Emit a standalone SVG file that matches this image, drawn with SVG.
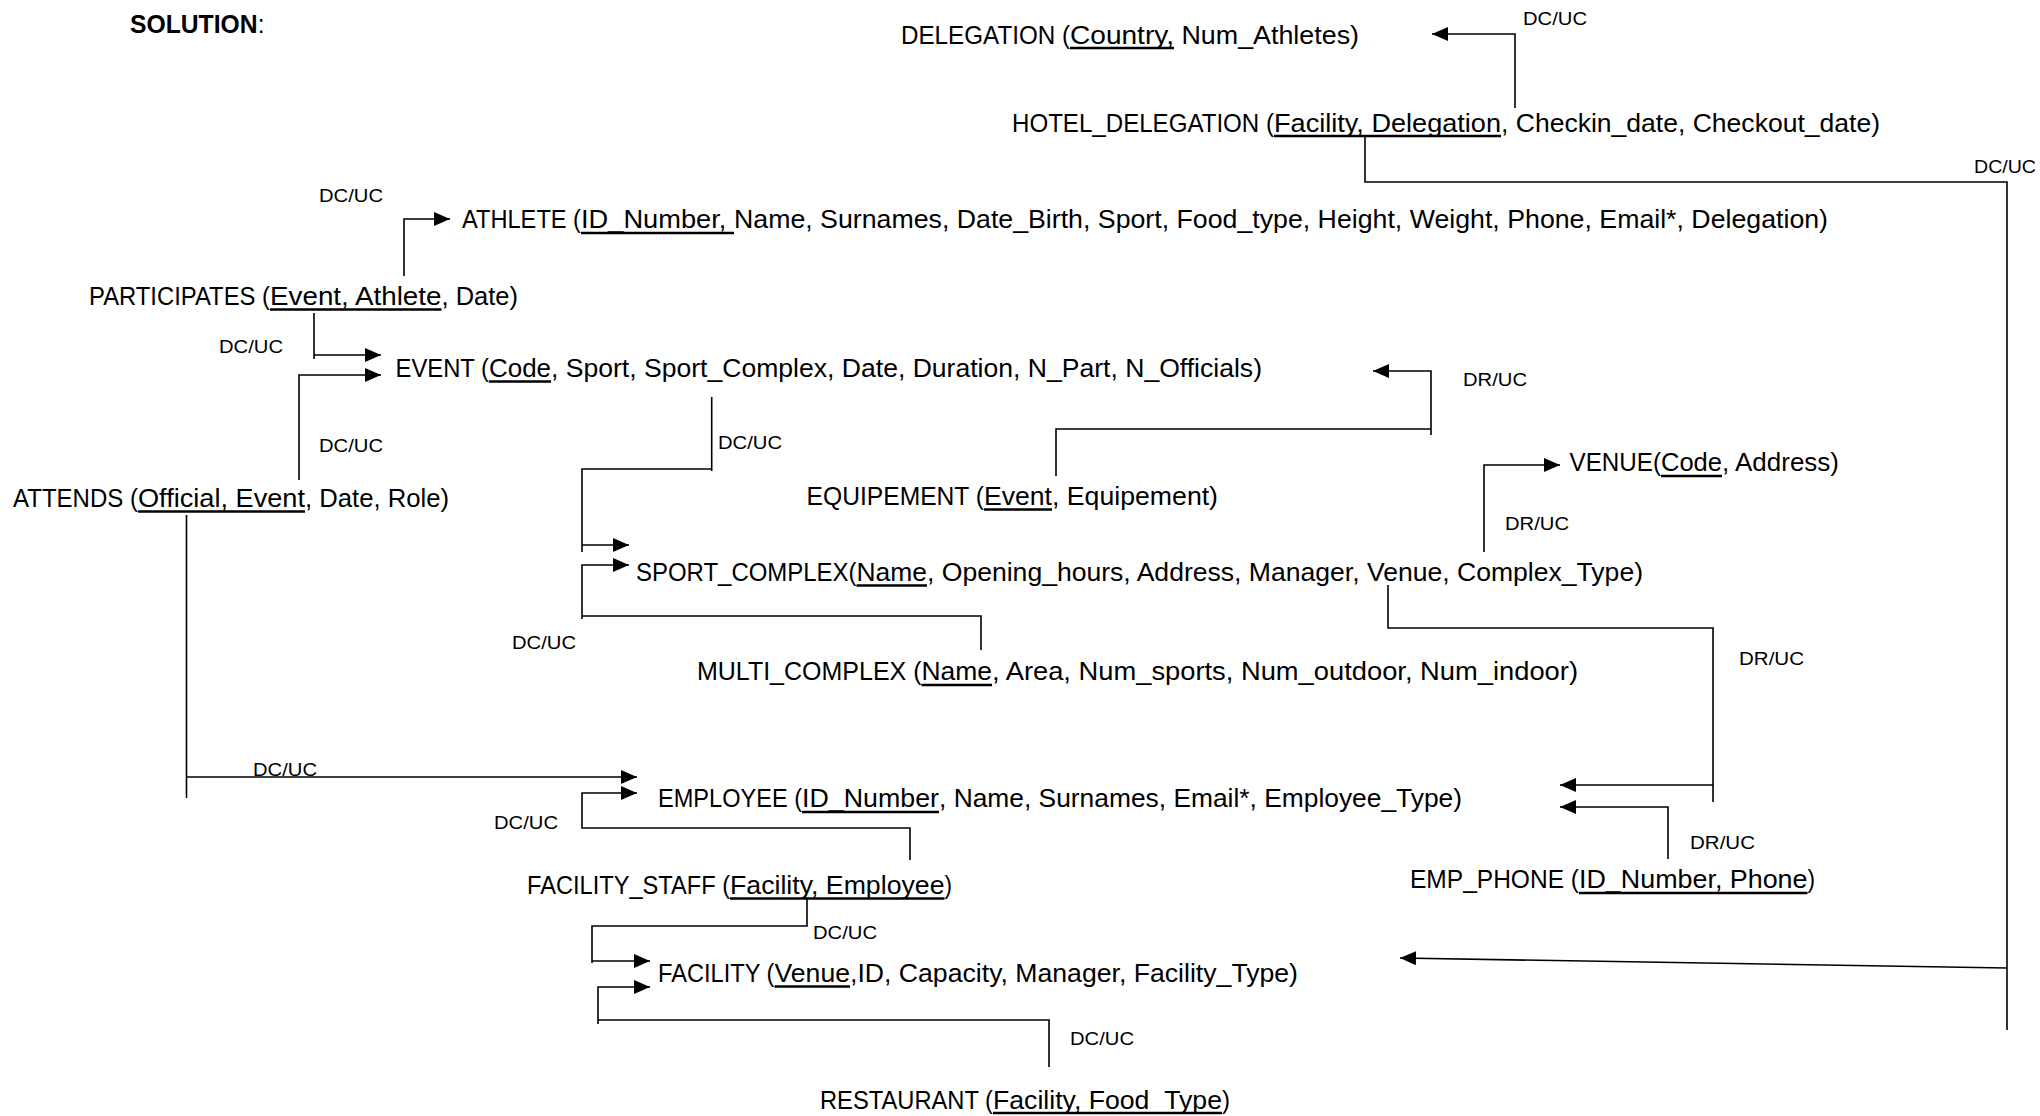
<svg xmlns="http://www.w3.org/2000/svg" width="2040" height="1116" viewBox="0 0 2040 1116">
<style>
text{font-family:"Liberation Sans",Arial,sans-serif;fill:#000}
.t{font-size:25px}
.s{font-size:18.5px}
.u{stroke:#000;stroke-width:2.6}
.c{fill:none;stroke:#000;stroke-width:1.6}
</style>
<defs>
<marker id="ah" viewBox="0 0 16 14" refX="16" refY="7" markerWidth="16" markerHeight="14" markerUnits="userSpaceOnUse" orient="auto"><path d="M0,0 L16,7 L0,14 z" fill="#000"/></marker>
</defs>
<rect width="2040" height="1116" fill="#fff"/>
<g id="title"><text class="t" x="130" y="33" textLength="134.5" lengthAdjust="spacingAndGlyphs"><tspan font-weight="bold">SOLUTION</tspan>:</text></g>
<g id="delegation"><text class="t" y="44" lengthAdjust="spacingAndGlyphs"><tspan x="901" textLength="169" lengthAdjust="spacingAndGlyphs">DELEGATION (</tspan><tspan x="1070" textLength="104" lengthAdjust="spacingAndGlyphs">Country,</tspan><tspan x="1174" textLength="185" lengthAdjust="spacingAndGlyphs"> Num_Athletes)</tspan></text><line class="u" x1="1070" y1="48" x2="1174" y2="48"/></g>
<g id="hotel_delegation"><text class="t" y="132"><tspan x="1012" textLength="262" lengthAdjust="spacingAndGlyphs">HOTEL_DELEGATION (</tspan><tspan x="1274" textLength="227" lengthAdjust="spacingAndGlyphs">Facility, Delegation</tspan><tspan x="1501" textLength="379" lengthAdjust="spacingAndGlyphs">, Checkin_date, Checkout_date)</tspan></text><line class="u" x1="1274" y1="136" x2="1501" y2="136"/></g>
<g id="athlete"><text class="t" y="228"><tspan x="462" textLength="119" lengthAdjust="spacingAndGlyphs">ATHLETE (</tspan><tspan x="581" textLength="153" lengthAdjust="spacingAndGlyphs">ID_Number, </tspan><tspan x="734" textLength="1094" lengthAdjust="spacingAndGlyphs">Name, Surnames, Date_Birth, Sport, Food_type, Height, Weight, Phone, Email*, Delegation)</tspan></text><line class="u" x1="581" y1="233" x2="734" y2="233"/></g>
<g id="participates"><text class="t" y="305"><tspan x="89" textLength="181" lengthAdjust="spacingAndGlyphs">PARTICIPATES (</tspan><tspan x="270" textLength="171.5" lengthAdjust="spacingAndGlyphs">Event, Athlete</tspan><tspan x="441.5" textLength="76.5" lengthAdjust="spacingAndGlyphs">, Date)</tspan></text><line class="u" x1="270" y1="309.5" x2="441.5" y2="309.5"/></g>
<g id="event"><text class="t" y="377"><tspan x="395.5" textLength="93.5" lengthAdjust="spacingAndGlyphs">EVENT (</tspan><tspan x="489" textLength="62" lengthAdjust="spacingAndGlyphs">Code</tspan><tspan x="551" textLength="711" lengthAdjust="spacingAndGlyphs">, Sport, Sport_Complex, Date, Duration, N_Part, N_Officials)</tspan></text><line class="u" x1="489" y1="381.5" x2="551" y2="381.5"/></g>
<g id="attends"><text class="t" y="507"><tspan x="13" textLength="125" lengthAdjust="spacingAndGlyphs">ATTENDS (</tspan><tspan x="138" textLength="167" lengthAdjust="spacingAndGlyphs">Official, Event</tspan><tspan x="305" textLength="144" lengthAdjust="spacingAndGlyphs">, Date, Role)</tspan></text><line class="u" x1="138" y1="511.5" x2="305" y2="511.5"/></g>
<g id="equipement"><text class="t" y="505"><tspan x="806.6" textLength="177.4" lengthAdjust="spacingAndGlyphs">EQUIPEMENT (</tspan><tspan x="984" textLength="68" lengthAdjust="spacingAndGlyphs">Event</tspan><tspan x="1052" textLength="166" lengthAdjust="spacingAndGlyphs">, Equipement)</tspan></text><line class="u" x1="984" y1="509.5" x2="1052" y2="509.5"/></g>
<g id="venue"><text class="t" y="471"><tspan x="1569.5" textLength="91.5" lengthAdjust="spacingAndGlyphs">VENUE(</tspan><tspan x="1661" textLength="61" lengthAdjust="spacingAndGlyphs">Code</tspan><tspan x="1722" textLength="117" lengthAdjust="spacingAndGlyphs">, Address)</tspan></text><line class="u" x1="1661" y1="476" x2="1722" y2="476"/></g>
<g id="sport_complex"><text class="t" y="581"><tspan x="636" textLength="220.5" lengthAdjust="spacingAndGlyphs">SPORT_COMPLEX(</tspan><tspan x="856.5" textLength="70.5" lengthAdjust="spacingAndGlyphs">Name</tspan><tspan x="927" textLength="716" lengthAdjust="spacingAndGlyphs">, Opening_hours, Address, Manager, Venue, Complex_Type)</tspan></text><line class="u" x1="856.5" y1="585.5" x2="927" y2="585.5"/></g>
<g id="multi_complex"><text class="t" y="680"><tspan x="697" textLength="224.5" lengthAdjust="spacingAndGlyphs">MULTI_COMPLEX (</tspan><tspan x="921.5" textLength="70.5" lengthAdjust="spacingAndGlyphs">Name</tspan><tspan x="992" textLength="586" lengthAdjust="spacingAndGlyphs">, Area, Num_sports, Num_outdoor, Num_indoor)</tspan></text><line class="u" x1="921.5" y1="685" x2="992" y2="685"/></g>
<g id="employee"><text class="t" y="807"><tspan x="658" textLength="144" lengthAdjust="spacingAndGlyphs">EMPLOYEE (</tspan><tspan x="802" textLength="137" lengthAdjust="spacingAndGlyphs">ID_Number</tspan><tspan x="939" textLength="523" lengthAdjust="spacingAndGlyphs">, Name, Surnames, Email*, Employee_Type)</tspan></text><line class="u" x1="802" y1="812" x2="939" y2="812"/></g>
<g id="facility_staff"><text class="t" y="894"><tspan x="527" textLength="203" lengthAdjust="spacingAndGlyphs">FACILITY_STAFF (</tspan><tspan x="730" textLength="214.5" lengthAdjust="spacingAndGlyphs">Facility, Employee</tspan><tspan x="944.5" textLength="7.5" lengthAdjust="spacingAndGlyphs">)</tspan></text><line class="u" x1="730" y1="898.5" x2="944.5" y2="898.5"/></g>
<g id="emp_phone"><text class="t" y="888"><tspan x="1410" textLength="169" lengthAdjust="spacingAndGlyphs">EMP_PHONE (</tspan><tspan x="1579" textLength="228.5" lengthAdjust="spacingAndGlyphs">ID_Number, Phone</tspan><tspan x="1807.5" textLength="7.5" lengthAdjust="spacingAndGlyphs">)</tspan></text><line class="u" x1="1579" y1="893" x2="1807.5" y2="893"/></g>
<g id="facility"><text class="t" y="982"><tspan x="658" textLength="116.5" lengthAdjust="spacingAndGlyphs">FACILITY (</tspan><tspan x="774.5" textLength="75.5" lengthAdjust="spacingAndGlyphs">Venue</tspan><tspan x="850" textLength="448" lengthAdjust="spacingAndGlyphs">,ID, Capacity, Manager, Facility_Type)</tspan></text><line class="u" x1="774.5" y1="986.5" x2="850" y2="986.5"/></g>
<g id="restaurant"><text class="t" y="1109"><tspan x="820" textLength="173" lengthAdjust="spacingAndGlyphs">RESTAURANT (</tspan><tspan x="993" textLength="229" lengthAdjust="spacingAndGlyphs">Facility, Food_Type</tspan><tspan x="1222" textLength="8" lengthAdjust="spacingAndGlyphs">)</tspan></text><line class="u" x1="993" y1="1113" x2="1222" y2="1113"/></g>
<g id="connectors">
<path class="c" d="M1515,108 V34 H1432" marker-end="url(#ah)"/>
<path class="c" d="M1365,137 V182 H2007 V1030"/>
<path class="c" d="M2007,968 L1400,958" marker-end="url(#ah)"/>
<path class="c" d="M404,276 V219 H450" marker-end="url(#ah)"/>
<path class="c" d="M314,313 V359"/>
<path class="c" d="M314,355 H381" marker-end="url(#ah)"/>
<path class="c" d="M299,480 V375 H381" marker-end="url(#ah)"/>
<path class="c" d="M186.5,515 V798"/>
<path class="c" d="M186.5,777 H637" marker-end="url(#ah)"/>
<path class="c" d="M910,860 V828 H582 V793 H637" marker-end="url(#ah)"/>
<path class="c" d="M807,899 V926 H592 V963"/>
<path class="c" d="M592,961 H650" marker-end="url(#ah)"/>
<path class="c" d="M1049,1067 V1020 H598"/>
<path class="c" d="M598,1024 V987 H650" marker-end="url(#ah)"/>
<path class="c" d="M1056,476 V429 H1431"/>
<path class="c" d="M1431,435 V371 H1373" marker-end="url(#ah)"/>
<path class="c" d="M711.7,397 V471"/>
<path class="c" d="M711.7,469 H582 V552"/>
<path class="c" d="M582,545 H629" marker-end="url(#ah)"/>
<path class="c" d="M981,650 V616 H582"/>
<path class="c" d="M582,619 V565 H629" marker-end="url(#ah)"/>
<path class="c" d="M1484,552 V465 H1560" marker-end="url(#ah)"/>
<path class="c" d="M1388,585 V628 H1713 V802"/>
<path class="c" d="M1713,785 H1560" marker-end="url(#ah)"/>
<path class="c" d="M1668,859 V807 H1560" marker-end="url(#ah)"/>
<text class="s" x="1523" y="25" textLength="64" lengthAdjust="spacingAndGlyphs">DC/UC</text>
<text class="s" x="1974" y="173" textLength="62" lengthAdjust="spacingAndGlyphs">DC/UC</text>
<text class="s" x="319" y="202" textLength="64" lengthAdjust="spacingAndGlyphs">DC/UC</text>
<text class="s" x="219" y="353" textLength="64" lengthAdjust="spacingAndGlyphs">DC/UC</text>
<text class="s" x="319" y="452" textLength="64" lengthAdjust="spacingAndGlyphs">DC/UC</text>
<text class="s" x="1463" y="386" textLength="64" lengthAdjust="spacingAndGlyphs">DR/UC</text>
<text class="s" x="718" y="449" textLength="64" lengthAdjust="spacingAndGlyphs">DC/UC</text>
<text class="s" x="1505" y="530" textLength="64" lengthAdjust="spacingAndGlyphs">DR/UC</text>
<text class="s" x="512" y="649" textLength="64" lengthAdjust="spacingAndGlyphs">DC/UC</text>
<text class="s" x="1739" y="665" textLength="65" lengthAdjust="spacingAndGlyphs">DR/UC</text>
<text class="s" x="253" y="776" textLength="64" lengthAdjust="spacingAndGlyphs">DC/UC</text>
<text class="s" x="494" y="829" textLength="64" lengthAdjust="spacingAndGlyphs">DC/UC</text>
<text class="s" x="1690" y="849" textLength="65" lengthAdjust="spacingAndGlyphs">DR/UC</text>
<text class="s" x="813" y="939" textLength="64" lengthAdjust="spacingAndGlyphs">DC/UC</text>
<text class="s" x="1070" y="1045" textLength="64" lengthAdjust="spacingAndGlyphs">DC/UC</text>
</g>
</svg>
